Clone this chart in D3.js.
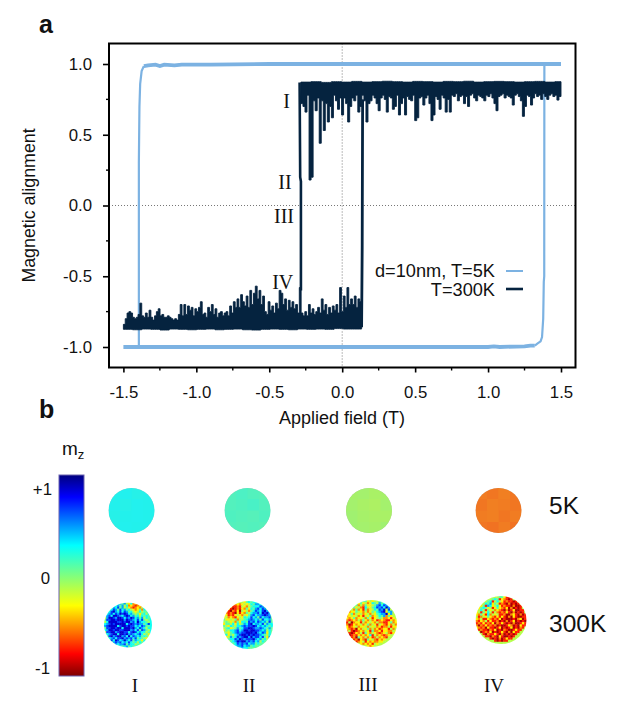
<!DOCTYPE html>
<html><head><meta charset="utf-8">
<script src="https://cdn.jsdelivr.net/npm/d3@7/dist/d3.min.js"></script>
<style>html,body{margin:0;padding:0;background:#fff}svg{display:block}text{font-family:"Liberation Sans",Arial,sans-serif;fill:#111}.rom{font-family:"Liberation Serif",serif}</style>
</head><body><svg id="c" width="623" height="717"></svg>
<script>
// ---------- panel a data ----------
const xTicks=[-1.5,-1,-0.5,0,0.5,1,1.5];
const yTicks=[-1,-0.5,0,0.5,1];
const xMinor=[-1.25,-0.75,-0.25,0.25,0.75,1.25];
const yMinor=[-0.75,-0.25,0.25,0.75];
const blueUpperFlat=[[-1.36,0.985],[-1.33,0.99],[-1.28,0.995],[-1.25,0.985],[-1.22,0.995],[-1.15,0.99],[-1.1,0.995],[-0.9,0.995],[-0.5,1],[0,1],[1.5,1]];
const blueLowerFlat=[[-1.5,-1],[0,-1],[1,-1],[1.04,-0.995],[1.08,-1],[1.25,-0.995],[1.29,-0.99],[1.32,-0.99]];
const blueDown=[[-1.36,0.985],[-1.375,0.95],[-1.385,0.86],[-1.39,0.7],[-1.394,0.3],[-1.394,-1]];
const blueUp=[[1.32,-0.99],[1.34,-0.975],[1.36,-0.96],[1.37,-0.93],[1.378,-0.8],[1.382,-0.54],[1.385,-0.5],[1.386,1]];
const darkJumpLeft=[[-0.292,0.87],[-0.288,0.2],[-0.283,0.17],[-0.283,-0.6]];
const darkJumpRight=[[0.133,-0.86],[0.137,-0.3],[0.14,0.75]];
// T=300K: tops of the noise on the negative branch (field -1.5 to 0.133)
const lowerTops=[-.84,-.80,-.76,-.75,-.76,-.79,-.80,-.79,-.77,-.69,
 -.78,-.79,-.76,-.79,-.74,-.79,-.81,-.78,-.75,-.73,
 -.78,-.77,-.79,-.79,-.78,-.79,-.80,-.81,-.80,-.81,-.77,-.70,
 -.78,-.70,-.77,-.71,-.74,-.72,-.78,-.73,-.75,-.72,-.68,
 -.77,-.76,-.79,-.72,-.75,-.70,-.77,-.73,-.79,-.76,-.75,
 -.78,-.76,-.75,-.78,-.71,-.76,-.68,-.72,-.66,-.72,-.63,
 -.68,-.71,-.64,-.72,-.60,-.70,-.62,-.57,-.66,-.60,-.70,
 -.64,-.75,-.77,-.68,-.74,-.71,-.76,-.69,-.73,-.60,-.62,
 -.70,-.66,-.74,-.67,-.72,-.68,-.73,-.70,-.76,-.58,
 -.76,-.78,-.75,-.78,-.70,-.76,-.73,-.77,-.75,-.72,-.76,
 -.66,-.74,-.70,-.77,-.72,-.76,-.71,-.74,-.70,-.76,-.58,
 -.75,-.64,-.72,-.58,-.70,-.66,-.70,-.64,-.72,-.66,-.68,-.57];
const lowerFloors=[-.875,-.878,-.873,-.875,-.88,-.873,-.875,-.878,-.875,-.873,-.878,-.875,-.873,-.878,-.88,-.875,-.873,-.875,-.878,-.873,-.875,-.873,-.875,-.87,-.873,-.873,-.87];
const lowerStart=-1.5, lowerEnd=0.133;
// T=300K: bottoms of the noise on the positive branch (field -0.283 to 1.5)
const upperBottoms=[.72,.70,.66,.78,.18,.20,.74,.67,.76,.44,.74,.53,.72,.59,.70,.62,.78,.74,.68,.76,.64,.76,.72,.59,.70,.76,.74,.78,.66,
 .70,.78,.74,.59,.72,.74,.78,.76,.72,.67,
 .76,.78,.75,.66,.77,.76,.68,.70,.78,.64,
 .72,.76,.64,.77,.75,.74,.78,.60,.62,.76,
 .77,.71,.76,.78,.72,.60,.64,.77,.75,.68,
 .78,.76,.66,.75,.66,.78,.77,.79,.74,.77,
 .78,.72,.77,.70,.78,.79,.76,.74,.78,.77,
 .76,.74,.78,.77,.79,.76,.72,.67,.77,.78,
 .79,.76,.78,.77,.76,.71,.78,.79,.77,.74,
 .63,.70,.78,.77,.71,.76,.79,.77,.78,.75,
 .79,.77,.75,.78,.79,.77,.78,.745,.77,.78];
const upperCeilings=[.872,.875,.87,.875,.872,.877,.872,.875,.878,.875,.872,.877,.875,.872,.877,.875,.878,.872,.875,.877,.875,.872,.875,.877,.872,.875,.872];
const upperStart=-0.283, upperEnd=1.5;
const legendLabels=["d=10nm, T=5K","T=300K"];
const branchLabels=["I","II","III","IV"];
const branchFields=[[286.7,108],[285,189],[284,223],[282.7,289]];
// ---------- panel b data ----------
const barLabels=[["+1",1],["0",0],["-1",-1]];
const jetStops=["#00007f","#0000ff","#00ffff","#7fff7f","#ffff00","#ff0000","#7f0000"];
const jetFrac=[0,.11,.35,.5,.65,.89,1];
const disks5K=[
 [.35,.36,.34,.35,.35,.34,.36,.35,.34,.35,.36,.35,.34,.36,.35,.35],
 [.20,.22,.20,.19,.20,.21,.23,.20,.21,.20,.19,.21,.20,.19,.20,.19],
 [-.07,-.06,-.08,-.07,-.06,-.08,-.09,-.06,-.05,-.07,-.08,-.08,-.05,-.06,-.07,-.05],
 [-.61,-.62,-.60,-.62,-.62,-.60,-.61,-.62,-.61,-.60,-.62,-.61,-.62,-.63,-.61,-.63]];
const disks300K=[
 ["6666666757436232156666","6666667574623212316666","6665768574532123246666","6656875867564323526566","6568976868756434645566","5678687989867545356466","6786998768986756465656","4799879986879867574656","5889989997988768685456","4699998898997869766546","6789899999689878775686","7899996899898867687556","5889989969998976876466","6799899889997868587546","4889978998868986766456","5678996998978767864536","6589789978696876756546","6467868897878685654366","6658698679768576536466","6665787867686564656666","6666576778576645566666","6666665656756566666666"],
 ["5555555443565665555555","5555323234346577655555","5553112143245666875555","5531012132536578687555","5310213043425687689755","5212103132546778698975","4312134324357867789875","3423213436568675867785","5334352445678767586675","4543425366587868767585","3554636457689677685766","5436546678788986767656","4563457568899877876575","3546678679989988767465","5435678788999897687365","4635467899898988765465","5347568789979788685375","4456687987888976756465","5545679899787867465555","5556568787867756555555","5555567786775655555555","5555555676655555555555"],
 ["4444444553434456555555","4444435342365475655555","4443524253345786875444","4435342164356878697444","4342523152346587948444","4233543242354678936744","3352434234243567793744","2343423143523465725344","3235233425313454223134","2123242532423123211323","1402331423432422113523","2013234235243143213242","3123423342434231224133","3212032435242312331424","2410123243152231332243","3101324153243212342134","4012132323614232123444","4312053242312423214444","4431203215342132344444","4444123413232233444444","4444443232314344444444","4444444443234444444444"],
 ["4444444444553114444444","4444444565132101444444","4444456146431211014444","4444657354121020101444","4435176346312110200144","4356534135321302010144","3464153423210201300114","3415364142121310201014","3253162434112002310201","4124353213131020310011","3241132121301000102301","2132413112010201301010","1213121302131010200131","2021312120100132010311","3212031101301013010214","4121102130102100131144","4401213010131020311444","4441021131020101014444","4444110210310010144444","4444441010201311444444","4444444410101144444444","4444444444444444444444"]];
const disk5KCentres=[[131.5,510.5],[247.5,510.5],[369,510.5],[498.5,510.5]];
const disk300KCentres=[[128,625,24,22.5],[248,625,25,24],[371.5,623.5,25.5,23.5],[501,620,25.5,24]];
const columnLabelPos=[[135,692],[249,692],[368,691],[494,692]];

// ---------- drawing ----------
const blue="#7cb2e2", dark="#05233f";
const svg=d3.select("#c");
const x=d3.scaleLinear().domain([-1.5,1.5]).range([123.4,561]);
const y=d3.scaleLinear().domain([-1,1]).range([347,64]);
const L=109,R=575.5,T=43.5,B=367.5;
const gPlot=svg.append("g");
// axes
const ax=gPlot.append("g").attr("transform",`translate(0,${B})`).call(d3.axisBottom(x).tickValues(xTicks).tickSize(5).tickPadding(14).tickFormat(d3.format(".1f")));
const ay=gPlot.append("g").attr("transform",`translate(${L},0)`).call(d3.axisLeft(y).tickValues(yTicks).tickSize(6).tickPadding(11).tickFormat(d3.format(".1f")));
[ax,ay].forEach(a=>{a.select(".domain").remove();a.selectAll("line").attr("stroke","#000").attr("stroke-width",1.6);
 a.selectAll("text").style("font-size","16.8px").style("font-family",'"Liberation Sans"').attr("fill","#111");});
ax.selectAll("text").text(d=>d3.format(".1f")(d).replace("−","-"));
ay.selectAll("text").text(d=>d3.format(".1f")(d).replace("−","-"));
gPlot.append("g").selectAll("line").data(xMinor).join("line").attr("x1",d=>x(d)).attr("x2",d=>x(d)).attr("y1",B).attr("y2",B+3).attr("stroke","#000").attr("stroke-width",1.4);
gPlot.append("g").selectAll("line").data(yMinor).join("line").attr("y1",d=>y(d)).attr("y2",d=>y(d)).attr("x1",L).attr("x2",L-3).attr("stroke","#000").attr("stroke-width",1.4);
// zero lines
gPlot.append("line").attr("x1",L).attr("x2",R).attr("y1",y(0)).attr("y2",y(0)).attr("stroke","#777").attr("stroke-width",1).attr("stroke-dasharray","1 2");
gPlot.append("line").attr("x1",x(0)).attr("x2",x(0)).attr("y1",T).attr("y2",B).attr("stroke","#777").attr("stroke-width",1).attr("stroke-dasharray","1 2");
const line=d3.line().x(d=>x(d[0])).y(d=>y(d[1]));
// 5K loop
const drawPath=(d,c,w)=>gPlot.append("path").attr("d",line(d)).attr("fill","none").attr("stroke",c).attr("stroke-width",w);
drawPath(blueDown,blue,2.2);drawPath(blueUp,blue,2.2);drawPath(blueUpperFlat,blue,3.8);drawPath(blueLowerFlat,blue,3.8);
// 300K loop
const idx=(arr,a,b)=>d3.scaleLinear().domain([0,arr.length-1]).range([a,b]);
const lx=idx(lowerTops,lowerStart,lowerEnd), ux=idx(upperBottoms,upperStart,upperEnd);
gPlot.append("path").attr("fill",dark).attr("stroke",dark).attr("stroke-width",.9)
 .attr("d",d3.area().curve(d3.curveStepAfter).x((d,i)=>x(lx(i))).y0((d,i)=>y(lowerFloors[Math.floor(i/5)])).y1(d=>y(d))(lowerTops));
gPlot.append("path").attr("fill",dark).attr("stroke",dark).attr("stroke-width",.9)
 .attr("d",d3.area().curve(d3.curveStepAfter).x((d,i)=>x(ux(i))).y0((d,i)=>y(upperCeilings[Math.floor(i/5)])).y1(d=>y(d))(upperBottoms));
drawPath(darkJumpLeft,dark,2.6);drawPath(darkJumpRight,dark,2.8);
// frame
gPlot.append("rect").attr("x",L).attr("y",T).attr("width",R-L).attr("height",B-T).attr("fill","none").attr("stroke","#000").attr("stroke-width",2);
// axis titles
svg.append("text").attr("x",342).attr("y",424).attr("text-anchor","middle").style("font-size","18px").text("Applied field (T)");
svg.append("text").attr("transform","translate(35,205.5) rotate(-90)").attr("text-anchor","middle").style("font-size","17.8px").text("Magnetic alignment");
// legend
svg.selectAll(".lg").data(legendLabels).join("text").attr("class","lg").attr("x",495).attr("y",(d,i)=>277+i*18.5).attr("text-anchor","end").style("font-size","18.2px").text(d=>d);
[blue,dark].forEach((c,i)=>svg.append("line").attr("x1",506).attr("x2",523).attr("y1",271+i*18).attr("y2",271+i*18).attr("stroke",c).attr("stroke-width",i?2.6:2));
// roman labels
svg.selectAll(".br").data(branchLabels).join("text").attr("class","br rom").attr("x",(d,i)=>branchFields[i][0]).attr("y",(d,i)=>branchFields[i][1]).attr("text-anchor","middle").style("font-size","20px").text(d=>d);
svg.selectAll(".cl").data(branchLabels).join("text").attr("class","cl rom").attr("x",(d,i)=>columnLabelPos[i][0]).attr("y",(d,i)=>columnLabelPos[i][1]).attr("text-anchor","middle").style("font-size","19px").text(d=>d);
// panel letters
svg.append("text").attr("x",39).attr("y",33).style("font-size","25px").style("font-weight","bold").attr("fill","#000").text("a");
svg.append("text").attr("x",39).attr("y",418).style("font-size","25px").style("font-weight","bold").attr("fill","#000").text("b");
// colour bar
const barY=d3.scaleLinear().domain([1,0,-1]).range([489,578,668]);
const barTop=475,barBottom=676;
const mzOf=f=>barY.invert(barTop+f*(barBottom-barTop));
const jet=d3.scaleLinear().domain(jetFrac.map(mzOf).reverse()).range(jetStops.slice().reverse()).clamp(true);
const defs=svg.append("defs");
const grad=defs.append("linearGradient").attr("id","jet").attr("x1",0).attr("x2",0).attr("y1",0).attr("y2",1);
grad.selectAll("stop").data(jetStops).join("stop").attr("offset",(d,i)=>jetFrac[i]).attr("stop-color",d=>d);
svg.append("rect").attr("x",59).attr("y",barTop).attr("width",25).attr("height",barBottom-barTop).attr("fill","url(#jet)").attr("stroke","#6a63b0").attr("stroke-width",1);
svg.selectAll(".bl").data(barLabels).join("text").attr("class","bl").attr("x",d=>d[1]===0?50:(d[1]>0?52:50)).attr("y",d=>barY(d[1])+5.5).attr("text-anchor","end").style("font-size","16.8px").text(d=>d[0]);
const mz=svg.append("text").attr("x",62).attr("y",455).style("font-size","19px").text("m");
mz.append("tspan").attr("dy",4).style("font-size","13px").text("z");
// disks
defs.append("filter").attr("id","soft").append("feGaussianBlur").attr("stdDeviation",.3);
defs.append("filter").attr("id","soft2").attr("x","-10%").attr("y","-10%").attr("width","120%").attr("height","120%").append("feGaussianBlur").attr("stdDeviation",.7);
disks5K.forEach((vals,k)=>{
 const [cx,cy]=disk5KCentres[k],n=4,r=23;
 defs.append("clipPath").attr("id","c5"+k).append("ellipse").attr("cx",cx).attr("cy",cy).attr("rx",r).attr("ry",r-.5);
 const b=d3.scaleBand().domain(d3.range(n)).range([cx-r,cx+r]), bb=d3.scaleBand().domain(d3.range(n)).range([cy-r,cy+r]);
 const g=svg.append("g").attr("filter","url(#soft2)").append("g").attr("clip-path",`url(#c5${k})`);
 g.append("rect").attr("x",cx-r).attr("y",cy-r).attr("width",2*r).attr("height",2*r).attr("fill","#b0b0b0");
 g.append("g").attr("opacity",.82).selectAll("rect").data(vals).join("rect").attr("x",(d,i)=>b(i%n)).attr("y",(d,i)=>bb(Math.floor(i/n))).attr("width",b.bandwidth()+.5).attr("height",bb.bandwidth()+.5).attr("fill",d=>jet(d));
});
disks300K.forEach((rows,k)=>{
 const [cx,cy,rx,ry]=disk300KCentres[k];
 const n=rows.length;
 defs.append("clipPath").attr("id","c3"+k).append("ellipse").attr("cx",cx).attr("cy",cy).attr("rx",rx).attr("ry",ry);
 const bx=d3.scaleBand().domain(d3.range(n)).range([cx-rx,cx+rx]), by=d3.scaleBand().domain(d3.range(n)).range([cy-ry,cy+ry]);
 const cells=rows.flatMap((r,j)=>r.split("").map((c,i)=>({i,j,v:-1+(+c)*2/9})));
 svg.append("g").attr("clip-path",`url(#c3${k})`).append("g").attr("filter","url(#soft)")
  .selectAll("rect").data(cells).join("rect").attr("x",d=>bx(d.i)).attr("y",d=>by(d.j)).attr("width",bx.bandwidth()+.4).attr("height",by.bandwidth()+.4).attr("fill",d=>jet(d.v));
});
svg.append("text").attr("x",549).attr("y",514).style("font-size","24.5px").text("5K");
svg.append("text").attr("x",549).attr("y",632).style("font-size","24.5px").text("300K");
</script></body></html>
